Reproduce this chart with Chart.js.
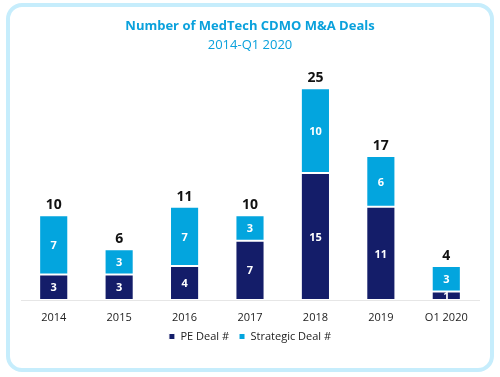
<!DOCTYPE html>
<html>
<head>
<meta charset="utf-8">
<script src="https://cdn.jsdelivr.net/npm/chart.js@4/dist/chart.umd.min.js"></script>
<style>
  html, body { margin: 0; padding: 0; background: #ffffff; }
  #wrap { position: relative; width: 500px; height: 377px; }
  #frame { position: absolute; left: 6px; top: 3px; width: 488px; height: 369px; box-sizing: border-box;
           border: 4px solid #c6edfc; border-radius: 16px; }
  canvas { position: absolute; left: 0; top: 0; }
</style>
</head>
<body>
<div id="wrap">
  <div id="frame"></div>
  <canvas id="c" width="500" height="377"></canvas>
</div>
<script>
const categories = ['2014', '2015', '2016', '2017', '2018', '2019', 'Q1 2020'];
const peDeals = [3, 3, 4, 7, 15, 11, 1];
const strategicDeals = [7, 3, 7, 3, 10, 6, 3];
const totals = [10, 6, 11, 10, 25, 17, 4];
const seriesNames = ['PE Deal #', 'Strategic Deal #'];

const FONT = "'Open Sans', 'Noto Sans', sans-serif";

const labelPlugin = {
  id: 'barLabels',
  afterDatasetsDraw(chart) {
    const ctx = chart.ctx;
    ctx.save();
    ctx.textAlign = 'center';
    ctx.textBaseline = 'middle';
    ctx.fillStyle = '#ffffff';
    ctx.font = "bold 11px " + FONT;
    chart.data.datasets.forEach((ds, di) => {
      const meta = chart.getDatasetMeta(di);
      meta.data.forEach((bar, i) => {
        const v = ds.data[i];
        const midY = (bar.y + bar.base) / 2;
        ctx.fillText(String(v), bar.x, midY + 1);
      });
    });
    const topMeta = chart.getDatasetMeta(1);
    ctx.fillStyle = '#111111';
    ctx.font = "bold 14px " + FONT;
    topMeta.data.forEach((bar, i) => {
      ctx.fillText(String(totals[i]), bar.x, bar.y - 10);
    });
    ctx.restore();
  }
};

new Chart(document.getElementById('c'), {
  type: 'bar',
  data: {
    labels: categories,
    datasets: [
      { label: seriesNames[0], data: peDeals, backgroundColor: '#141d69', borderColor: '#ffffff', borderWidth: 1, borderSkipped: false },
      { label: seriesNames[1], data: strategicDeals, backgroundColor: '#03a5de', borderColor: '#ffffff', borderWidth: 1, borderSkipped: false }
    ]
  },
  options: {
    responsive: false,
    animation: false,
    devicePixelRatio: 1,
    datasets: { bar: { categoryPercentage: 1, barPercentage: 0.445 } },
    layout: { padding: { top: 10, left: 21, right: 21, bottom: 25 } },
    scales: {
      x: {
        stacked: true,
        grid: { display: false },
        border: { display: true, color: '#e6e6e6', width: 1 },
        ticks: { color: '#222222', font: { family: FONT, size: 11 }, padding: 3 },
        afterFit(scale) { scale.height = 21; }
      },
      y: {
        stacked: true, display: false, min: 0, max: 25
      }
    },
    plugins: {
      title: {
        display: true,
        text: 'Number of MedTech CDMO M&A Deals',
        color: '#0aa1dc',
        font: { family: FONT, size: 13, weight: 'bold' },
        padding: { top: 8, bottom: 4 }
      },
      subtitle: {
        display: true,
        text: '2014-Q1 2020',
        color: '#0aa1dc',
        font: { family: FONT, size: 13, weight: 'normal' },
        padding: { top: 0, bottom: 35 }
      },
      legend: {
        position: 'bottom',
        labels: {
          color: '#222222',
          font: { family: FONT, size: 11 },
          boxWidth: 6, boxHeight: 6,
          padding: 10
        }
      },
      tooltip: { enabled: false }
    }
  },
  plugins: [labelPlugin]
});
</script>
</body>
</html>
